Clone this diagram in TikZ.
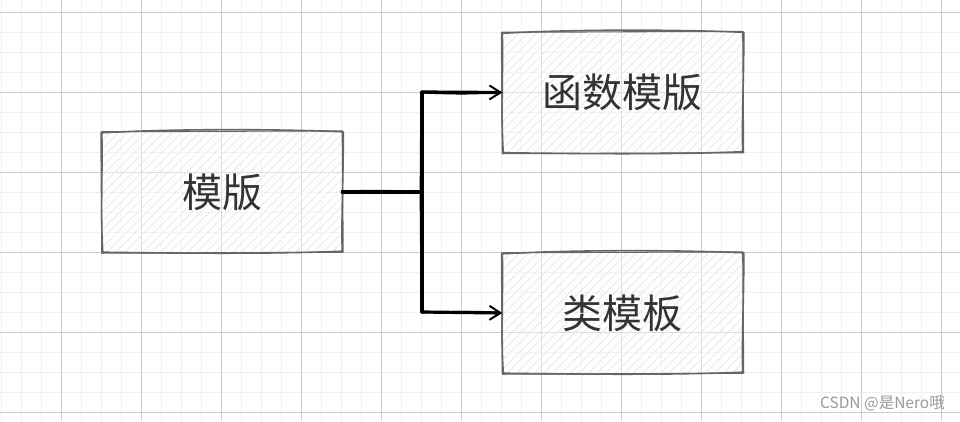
\documentclass[tikz,border=0pt]{standalone}
\usepackage{fontspec}
\newfontfamily\cjk{Noto Sans CJK SC}
\usetikzlibrary{arrows.meta,calc}
\definecolor{gridmin}{HTML}{F0F0F0}
\definecolor{gridmaj}{HTML}{CCCCCC}
\definecolor{boxline}{HTML}{666666}
\definecolor{hatch}{HTML}{EAEAEA}
\definecolor{txt}{HTML}{333333}
\definecolor{wm}{HTML}{999999}
\tikzset{
  minorgrid/.style={draw=gridmin, line width=1pt},
  majorgrid/.style={draw=gridmaj, line width=1pt},
  sbox/.style={minimum width=240pt, minimum height=120pt, inner sep=0pt,
    text=txt, font=\cjk\fontsize{40}{42}\selectfont},
  sline/.style={draw=boxline, line width=1.6pt, line join=round},
  conn/.style={draw=black, line width=3.2pt, line cap=round},
  connthin/.style={draw=black, line width=1.2pt, line cap=round},
  tip/.style={-{Straight Barb[length=11pt,width=14pt,line width=2pt]}}
}
\newcommand{\hatchbox}[1]{%
  \begin{scope}
    \clip (#1.south west) rectangle (#1.north east);
    \fill[white, opacity=0.3] (#1.south west) rectangle (#1.north east);
    \foreach \k in {-20,...,45} {
      \draw[hatch, line width=0.8pt] ($(#1.south west)+(\k*9-130,0)$) -- ++(130,-130);
    }
  \end{scope}}
\newcommand{\sketchedge}[1]{%
  \draw[sline] ($(#1.north west)+(0,1)$) .. controls ($(#1.north west)!0.3!(#1.north east)+(0,-3)$) and ($(#1.north west)!0.7!(#1.north east)+(0,-3)$) .. ($(#1.north east)+(1,0)$)
     .. controls ($(#1.north east)!0.3!(#1.south east)+(1.5,0)$) and ($(#1.north east)!0.7!(#1.south east)+(-1,0)$) .. ($(#1.south east)+(0,-1)$)
     .. controls ($(#1.south east)!0.3!(#1.south west)+(0,2)$) and ($(#1.south east)!0.7!(#1.south west)+(0,1)$) .. ($(#1.south west)+(1,0)$)
     .. controls ($(#1.south west)!0.3!(#1.north west)+(-1.5,0)$) and ($(#1.south west)!0.7!(#1.north west)+(1,0)$) .. ($(#1.north west)+(0,1)$);
  \draw[sline, line width=1.1pt] ($(#1.north west)+(-1,0)$) -- ($(#1.north east)+(0,-1)$) -- ($(#1.south east)+(1,0)$) -- ($(#1.south west)+(0,1)$) -- cycle;}
\begin{document}
\begin{tikzpicture}[x=1pt, y=-1pt]
\useasboundingbox (0,0) rectangle (960,421);
\fill[white] (0,0) rectangle (960,421);
% grid
\foreach \i in {0,...,48} \draw[minorgrid] (1.7+20*\i,0) -- (1.7+20*\i,421);
\foreach \i in {0,...,22} \draw[minorgrid] (0,-7.7+20*\i) -- (960,-7.7+20*\i);
\foreach \i in {0,...,11} \draw[majorgrid] (61.7+80*\i,0) -- (61.7+80*\i,421);
\foreach \i in {0,...,5} \draw[majorgrid] (0,12.3+80*\i) -- (960,12.3+80*\i);
% boxes
\node[sbox] (a) at (222,192) {};
\node[sbox] (b) at (622.5,92.5) {};
\node[sbox] (c) at (622.5,313) {};
\hatchbox{a}\hatchbox{b}\hatchbox{c}
\sketchedge{a}\sketchedge{b}\sketchedge{c}
\node[sbox] at (a) {模版};
\node[sbox] at (b) {函数模版};
\node[sbox] at (c) {类模板};
% connectors
\coordinate (j) at (422,192);
\coordinate (jt) at (422,92);
\coordinate (jb) at (422,312);
\draw[conn] (a.east) -- (j);
\draw[connthin] ($(a.east)+(0,-1)$) .. controls ($(a.east)!0.5!(j)+(0,-2)$) .. ($(j)+(0,0)$);
\draw[conn] (jt) -- (jb);
\draw[connthin] ($(jt)+(-1,2)$) .. controls ($(jt)!0.5!(jb)+(-2,0)$) .. ($(jb)+(-0.5,0)$);
\draw[conn, tip] (jt) -- (b.west);
\draw[connthin] ($(jt)+(0,1)$) .. controls ($(jt)!0.5!(b.west)+(0,2)$) .. ($(b.west)+(-6,0.5)$);
\draw[conn, tip] (jb) -- (c.west);
\draw[connthin] ($(jb)+(0,1)$) .. controls ($(jb)!0.5!(c.west)+(0,-1.5)$) .. ($(c.west)+(-6,-1)$);
% watermark
\node[anchor=east, text=wm, font=\cjk\fontsize{15.5}{16}\selectfont, inner sep=0pt] (w) at (945,403) {CSDN @是Nero哦};
\end{tikzpicture}
\end{document}
